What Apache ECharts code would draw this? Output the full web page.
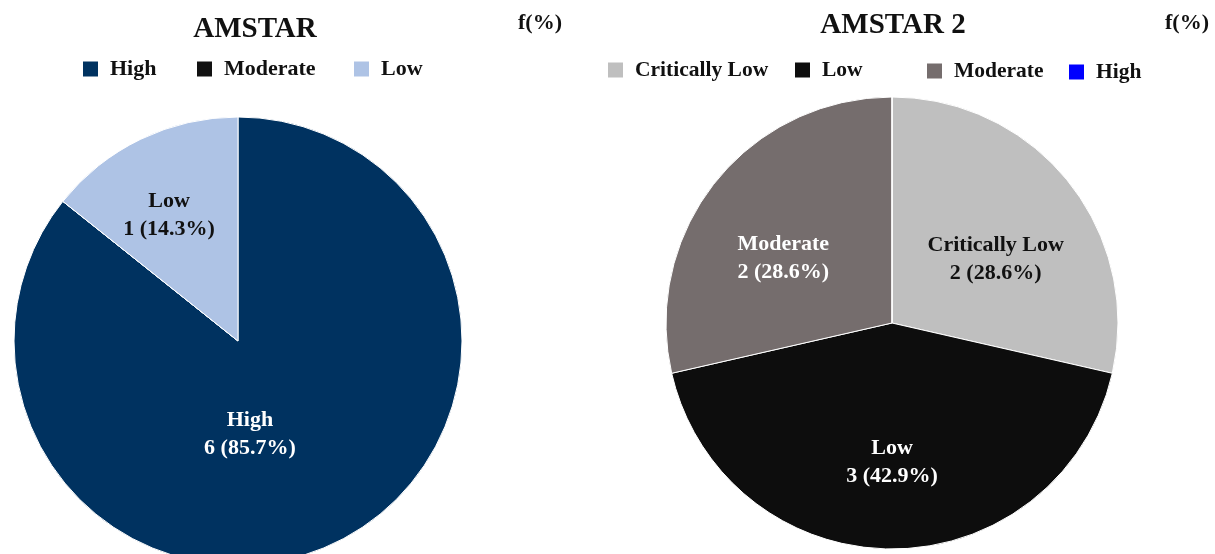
<!DOCTYPE html>
<html><head><meta charset="utf-8">
<script src="https://cdn.jsdelivr.net/npm/echarts@6/dist/echarts.min.js"></script>
<style>html,body{margin:0;padding:0;background:#fff}#c{width:1215px;height:554px}</style>
</head><body><div id="c"></div>
<script>
const leftCategories = ['High', 'Moderate', 'Low'];
const leftValues = [6, 0, 1];
const leftColors = ['#003260', '#111111', '#aec3e5'];
const leftLabelColors = ['#ffffff', '#ffffff', '#111111'];

const rightCategories = ['Critically Low', 'Low', 'Moderate', 'High'];
const rightValues = [2, 3, 2, 0];
const rightColors = ['#bfbfbf', '#0d0d0d', '#756d6d', '#0000ff'];
const rightLabelColors = ['#111111', '#ffffff', '#ffffff', '#ffffff'];

const FONT = '"Liberation Serif", "Times New Roman", serif';

function makeData(cats, vals, cols, lcols) {
  return cats.map((n, i) => ({
    name: n, value: vals[i],
    itemStyle: { color: cols[i] },
    label: { show: vals[i] > 0, color: lcols[i] }
  }));
}
function sum(a) { return a.reduce((s, v) => s + v, 0); }

// legend item placements (icon left x, top y)
const leftLegendPos = [[81, 58], [195, 58], [352, 58]];
const rightLegendPos = [[606, 59], [793, 59], [925, 60], [1067, 61]];

function legendItem(n, color, pos, fs) {
  return {
    left: pos[0], top: pos[1], padding: 0, orient: 'horizontal',
    itemWidth: 17, itemHeight: 17, icon: 'rect', selectedMode: false,
    data: [{ name: n, itemStyle: { color: color } }],
    textStyle: { fontFamily: FONT, fontWeight: 'bold', fontSize: fs, color: '#111', padding: [0, 0, 0, 6] }
  };
}
const legends = [];
leftCategories.forEach((n, i) => legends.push(legendItem(n, leftColors[i], leftLegendPos[i], 22)));
rightCategories.forEach((n, i) => legends.push(legendItem(n, rightColors[i], rightLegendPos[i], 21.5)));

const leftDx = [-38, 0, -19];
const leftDy = [-10, 0, -22];
const rightDx = [13, 0, -18];
const rightDy = [9, 23, 8];

function fmt(total) {
  return p => p.name + '\n' + p.value + ' (' + (p.value / total * 100).toFixed(1) + '%)';
}

const labelBase = { position: 'inside', fontFamily: FONT, fontWeight: 'bold', fontSize: 22, lineHeight: 28 };

const chart = echarts.init(document.getElementById('c'));
chart.setOption({
  animation: false,
  title: [
    { text: 'AMSTAR', left: 250, top: 10, textAlign: 'center',
      textStyle: { fontFamily: FONT, fontWeight: 'bold', fontSize: 29, color: '#111' } },
    { text: 'f(%)', left: 513, top: 7,
      textStyle: { fontFamily: FONT, fontWeight: 'bold', fontSize: 22, color: '#111' } },
    { text: 'AMSTAR 2', left: 888, top: 6, textAlign: 'center',
      textStyle: { fontFamily: FONT, fontWeight: 'bold', fontSize: 29, color: '#111' } },
    { text: 'f(%)', left: 1160, top: 7,
      textStyle: { fontFamily: FONT, fontWeight: 'bold', fontSize: 22, color: '#111' } }
  ],
  legend: legends,
  series: [
    {
      type: 'pie', center: [238, 341], radius: 224, startAngle: 90, clockwise: true,
      silent: true,
      itemStyle: { borderColor: '#ffffff', borderWidth: 1 },
      label: Object.assign({ formatter: fmt(sum(leftValues)) }, labelBase),
      labelLine: { show: false },
      labelLayout: p => ({ dx: leftDx[p.dataIndex], dy: leftDy[p.dataIndex] }),
      data: makeData(leftCategories, leftValues, leftColors, leftLabelColors)
    },
    {
      type: 'pie', center: [892, 323], radius: 226, startAngle: 90, clockwise: true,
      silent: true,
      itemStyle: { borderColor: '#ffffff', borderWidth: 1 },
      label: Object.assign({ formatter: fmt(sum(rightValues)) }, labelBase),
      labelLine: { show: false },
      labelLayout: p => ({ dx: rightDx[p.dataIndex] || 0, dy: rightDy[p.dataIndex] || 0 }),
      data: makeData(rightCategories, rightValues, rightColors, rightLabelColors)
    }
  ]
});
</script>
</body></html>
